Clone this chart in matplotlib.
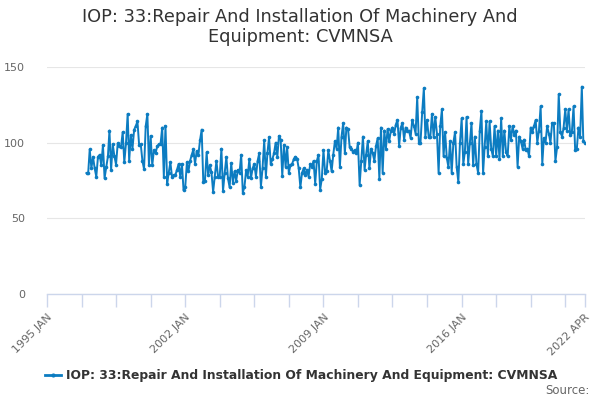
import matplotlib
matplotlib.use("Agg")
import matplotlib.pyplot as plt
import pandas as pd
import numpy as np

title = "IOP: 33:Repair And Installation Of Machinery And\nEquipment: CVMNSA"
series_name = "IOP: 33:Repair And Installation Of Machinery And Equipment: CVMNSA"
start_month = "1997-01"

values = [
    # 1997
    80, 80, 95.6, 83, 90.7, 83, 77.5, 90.7, 92, 85, 98.5, 76.5,
    # 1998
    84, 91, 108, 82, 99, 91, 85.5, 99.5, 98, 97, 107, 87,
    # 1999
    99.5, 119, 88, 105, 96, 108.6, 111, 114, 98.5, 99, 88, 82.5,
    # 2000
    111, 119, 85, 104.5, 85, 95, 93, 97.6, 99, 99, 110, 77.6,
    # 2001
    111, 73, 80, 87, 77.6, 78.5, 78.5, 82, 86, 77.6, 86, 68.5,
    # 2002
    70.5, 87, 81, 88, 92, 95.5, 86, 94.5, 91.8, 101.5, 108.6, 74,
    # 2003
    75, 93.6, 78.5, 85, 80.5, 67.5, 77.6, 88, 77, 77.6, 96, 68,
    # 2004
    80, 90.6, 76.5, 70.5, 86.5, 73.5, 81, 75, 82, 80, 92, 67,
    # 2005
    71, 82, 77.6, 89, 76.5, 83, 86, 77.6, 88, 93, 71, 83,
    # 2006
    101.5, 77.6, 93, 103.6, 86, 89, 93, 100, 90.7, 104.5, 102, 78,
    # 2007
    98.5, 84, 97, 80, 85, 86, 89, 90.7, 89.5, 83, 70.5, 80,
    # 2008
    83, 78.5, 82, 77.6, 86, 84, 88, 73, 88, 92, 69, 76,
    # 2009
    95, 80, 81, 95, 88, 81, 92, 101, 96, 110, 84, 104,
    # 2010
    113, 93, 110, 109, 97, 96, 94, 95, 93, 100, 72, 88,
    # 2011
    104, 82, 92, 101, 83, 96, 93, 88, 98, 103, 76, 110,
    # 2012
    80, 108, 96, 109, 101, 108, 110, 106, 112, 115, 98, 110,
    # 2013
    113, 102, 110, 108, 108, 103, 115, 111, 106, 130, 100, 100,
    # 2014
    120, 136, 104, 115, 104, 104, 119, 104, 117, 106, 80, 111,
    # 2015
    122, 91, 107, 90, 84, 101, 80, 100, 107, 84, 74, 100,
    # 2016
    116, 86, 94, 117, 86, 100, 113, 85, 104, 86, 80, 108,
    # 2017
    121, 80, 97, 114, 91, 114, 96, 91, 111, 91, 108, 89,
    # 2018
    116, 91, 108, 94, 91, 111, 102, 111, 105, 108, 84, 104,
    # 2019
    101, 96, 102, 95, 96, 91, 110, 107, 111, 115, 100, 108,
    # 2020
    124, 86, 103, 100, 111, 106, 100, 113, 113, 88, 97, 132,
    # 2021
    107, 104, 110, 122, 108, 122, 105, 107, 124, 95, 96, 110,
    # 2022
    104, 137, 101, 100,
]

y_ticks = [0, 50, 100, 150]
x_tick_dates = pd.date_range("1995-01-01", "2021-04-01", freq="21MS").tolist() + [pd.Timestamp("2022-04-01")]
x_tick_labels = ["1995 JAN", "", "", "", "2002 JAN", "", "", "", "2009 JAN", "", "", "",
                 "2016 JAN", "", "", "", "2022 APR"]

dates = pd.date_range(start_month, periods=len(values), freq="MS")

plt.rcParams['font.family'] = ['DejaVu Sans']
fig = plt.figure(figsize=(6, 4), dpi=100)
ax = fig.add_axes([47/600, 1 - 294/400, (585-47)/600, (294-67)/400])

color = "#0c7cc1"
ax.plot(dates, values, color=color, lw=1.4, marker="o", ms=2.6, mew=0, zorder=3)

ax.set_ylim(0, 150)
ax.set_xlim(pd.Timestamp("1995-01-01"), pd.Timestamp("2022-04-01"))
ax.set_yticks(y_ticks)
ax.set_yticklabels([str(t) for t in y_ticks], fontsize=8, color="#666666")
ax.yaxis.grid(True, color="#e6e6e6", lw=0.8)
ax.set_axisbelow(True)
ax.tick_params(axis="y", length=0, pad=16)

ax.set_xticks(x_tick_dates)
ax.set_xticklabels(x_tick_labels, fontsize=8, color="#666666", rotation=45,
                   ha="right", va="top", rotation_mode="anchor")
ax.tick_params(axis="x", length=9, color="#ccd6eb", width=1, pad=4)

for s in ["top", "right", "left"]:
    ax.spines[s].set_visible(False)
ax.spines["bottom"].set_color("#ccd6eb")
ax.spines["bottom"].set_linewidth(1)

fig.text(0.5, 1 - 8/400, title, ha="center", va="top", fontsize=12.8, color="#333333",
         linespacing=1.12)

# legend
lx, ly = 45/600, 1 - 375/400
fig.lines.append(plt.Line2D([lx, lx + 16/600], [ly, ly], transform=fig.transFigure,
                            color=color, lw=2))
fig.lines.append(plt.Line2D([lx + 8/600], [ly], transform=fig.transFigure, color=color,
                            marker="o", ms=3, mew=0))
fig.text(lx + 21/600, ly, series_name, ha="left", va="center", fontsize=8.9,
         color="#333333", fontweight="bold")
fig.text(590/600, 1 - 390/400, "Source:", ha="right", va="center", fontsize=8.5, color="#666666")

fig.savefig("out.png", dpi=100)
